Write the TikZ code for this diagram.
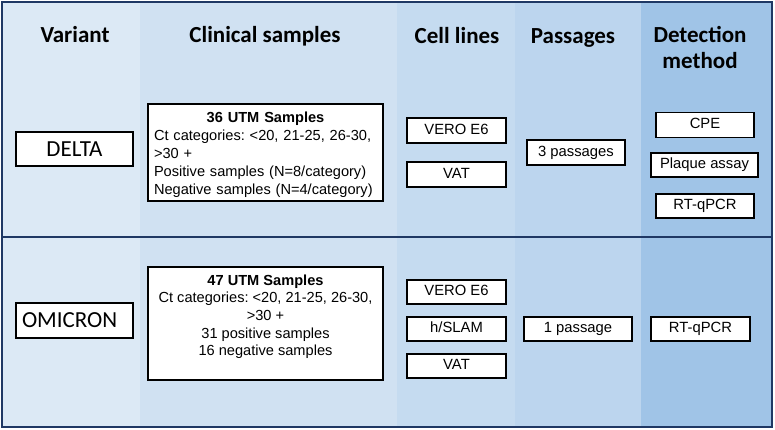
\documentclass[tikz,border=0pt]{standalone}
\usepackage{fontspec}
\setmainfont{Liberation Sans}
\newfontfamily\calib{Carlito}
\frenchspacing
\definecolor{cvar}{HTML}{DCE9F5}
\definecolor{cclin}{HTML}{D0E1F2}
\definecolor{ccell}{HTML}{C5DBF0}
\definecolor{cpass}{HTML}{BCD5EE}
\definecolor{cdet}{HTML}{A0C4E7}
\definecolor{cframe}{HTML}{1F3864}
\tikzset{
  hdr/.style={font=\calib\bfseries\fontsize{23}{27}\selectfont, inner sep=0pt, anchor=base},
  framebox/.style={draw=cframe, line width=2.5pt},
  wbox/.style={draw=black, line width=1.3pt, fill=white, inner sep=0pt,
    font=\fontsize{14.8}{18}\selectfont, text height=10.5pt, text depth=3pt},
  varbox/.style={draw=black, line width=1.3pt, fill=white, inner sep=0pt,
    font=\calib\fontsize{23}{27}\selectfont, minimum width=117pt},
  clinbox/.style={draw=black, line width=1.3pt, fill=white, inner sep=0pt, minimum width=235pt},
  clintxt/.style={inner sep=0pt, font=\fontsize{14.6}{18}\selectfont, anchor=north}
}
\begin{document}
\begin{tikzpicture}[x=1pt,y=-1pt]
\useasboundingbox (0,0) rectangle (775,429);
% column backgrounds
\fill[cvar]  (2,2) rectangle (140,427);
\fill[cclin] (140,2) rectangle (397,427);
\fill[ccell] (397,2) rectangle (515,427);
\fill[cpass] (515,2) rectangle (641,427);
\fill[cdet]  (641,2) rectangle (772,427);
% frames
\draw[framebox] (2,2) rectangle (772,237);
\draw[framebox] (2,237) rectangle (772,427);
% headers
\node[hdr] (hVar)  at (75,42) {Variant};
\node[hdr] (hClin) at (265,42) {Clinical samples};
\node[hdr] (hCell) at (457,43) {Cell lines};
\node[hdr] (hPass) at (573,43) {Passages};
\node[hdr] (hDet1) at (700,42) {Detection};
\node[hdr] (hDet2) at (700,68) {method};
% DELTA row
\node[varbox, minimum height=34pt] (delta) at (74.5,149) {DELTA};
\node[clinbox, minimum height=97pt] (clinD) at (265.5,152.5) {};
\node[clintxt, text width=223pt, align=left] (clinDtxt) at (265.5,111.4)
  {\hfill\textbf{36 UTM Samples}\hfill\null\\
   Ct categories: <20, 21-25, 26-30,\\
   >30 +\\
   Positive samples (N=8/category)\\
   Negative samples (N=4/category)};
\node[wbox, minimum width=99pt, minimum height=25pt] (dVero) at (456.5,130.5) {VERO E6};
\node[wbox, minimum width=99pt, minimum height=25pt] (dVat) at (456.5,174.5) {VAT};
\node[wbox, minimum width=98pt, minimum height=25pt] (dPass) at (576,152.5) {3 passages};
\node[wbox, minimum width=98pt, minimum height=25pt] (dCPE) at (705,125) {CPE};
\node[wbox, minimum width=107pt, minimum height=24pt] (dPlaque) at (704.5,165) {Plaque assay};
\node[wbox, minimum width=98pt, minimum height=24pt] (dRT) at (705,206) {RT-qPCR};
% OMICRON row
\node[varbox, minimum height=35pt, text width=105pt, align=left, inner xsep=6pt] (omicron) at (74.5,320.5) {OMICRON};
\node[clinbox, minimum height=113pt] (clinO) at (265.5,323.5) {};
\node[clintxt, align=center, font=\fontsize{14.6}{17.7}\selectfont] (clinOtxt) at (265.5,274.4)
  {\textbf{47 UTM Samples}\\
   Ct categories: <20, 21-25, 26-30,\\
   >30 +\\
   31 positive samples\\
   16 negative samples};
\node[wbox, minimum width=99pt, minimum height=24pt] (oVero) at (456.5,292) {VERO E6};
\node[wbox, minimum width=99pt, minimum height=24pt] (oSlam) at (456.5,329) {h/SLAM};
\node[wbox, minimum width=99pt, minimum height=24pt] (oVat) at (456.5,366) {VAT};
\node[wbox, minimum width=108pt, minimum height=24pt] (oPass) at (578,329) {1 passage};
\node[wbox, minimum width=99pt, minimum height=24pt] (oRT) at (700.5,329) {RT-qPCR};
\end{tikzpicture}
\end{document}
